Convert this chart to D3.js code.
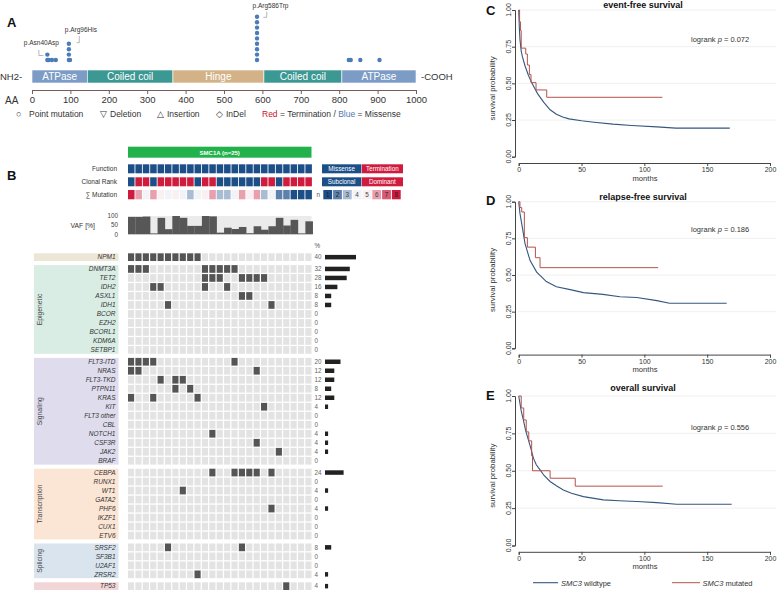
<!DOCTYPE html>
<html><head><meta charset="utf-8">
<script src="https://cdn.jsdelivr.net/npm/d3@7"></script>
<style>body{margin:0;background:#fff}svg{display:block}text{font-family:"Liberation Sans",Arial,sans-serif}</style>
</head><body><svg id="c" width="779" height="592"></svg>
<script>
// ---------------- DATA ----------------
// Panel A: protein domains / mutations
const domainNames = ["ATPase","Coiled coil","Hinge","Coiled coil","ATPase"];
const domainStart = [0,144,367,604,807];
const domainEnd   = [144,367,604,807,1000];
const aaTicks = [0,100,200,300,400,500,600,700,800,900,1000];
const mutPos   = [40,44,52,62,96,99,586,825,830,855,905];
const mutCount = [2,1,1,1,4,1,9,1,1,1,1];
const mutLabelText = ["p.Asn40Asp","p.Arg96His","p.Arg586Trp"];
const mutLabelAA   = [40,96,586];
// Panel B: SMC1A (n=25) columns
const nPatients = 25;
const functionRow = ["M","M","M","M","M","M","M","M","M","M","M","M","M","M","M","M","M","M","M","M","M","M","M","M","M"];
const clonalRow   = ["S","D","D","S","D","D","D","D","D","S","D","D","S","S","S","S","S","S","D","D","S","D","D","D","D"];
const sumMutRow   = [8,6,4,6,5,4,5,4,3,4,5,6,3,3,4,6,5,6,3,4,2,2,1,1,1];
const vafRow      = [95,95,97,5,90,28,100,90,46,46,100,98,9,36,29,40,6,44,25,44,90,48,79,5,71];
const vafTicks = [0,50,100];
// gene groups (mutated column numbers, 1-based)
const npmGenes = ["NPM1"];
const npmMuts  = [[1,2,3,4,5,6,7,8,9,10]];
const epiGenes = ["DNMT3A","TET2","IDH2","ASXL1","IDH1","BCOR","EZH2","BCORL1","KDM6A","SETBP1"];
const epiMuts  = [[1,2,3,11,12,13,14,15],[11,12,13,16,17,18,19],[4,5,11,14],[16,17],[6,20],[],[],[],[],[]];
const sigGenes = ["FLT3-ITD","NRAS","FLT3-TKD","PTPN11","KRAS","KIT","FLT3 other","CBL","NOTCH1","CSF3R","JAK2","BRAF"];
const sigMuts  = [[1,2,3,4,15],[1,2,18],[5,7,8],[7,9],[1,4,10],[19],[],[],[12],[18],[21],[]];
const traGenes = ["CEBPA","RUNX1","WT1","GATA2","PHF6","IKZF1","CUX1","ETV6"];
const traMuts  = [[12,15,16,17,18,20],[],[8],[],[20],[],[],[]];
const splGenes = ["SRSF2","SF3B1","U2AF1","ZRSR2"];
const splMuts  = [[6,16],[],[],[10]];
const tp5Genes = ["TP53"];
const tp5Muts  = [[22]];
const groupLabels = ["","Epigenetic","Signaling","Transcription","Splicing",""];
// Panels C-E: Kaplan-Meier curves
const kmTicksX = [0,50,100,150,200];
const kmTicksY = [0,0.25,0.5,0.75,1];
const efsWtT = [0,0.5,1,2,3,5,7.5,10,12.5,15,20,25,30,35,40,50,60,75,90,110,125,168];
const efsWtS = [1,0.88,0.80,0.72,0.68,0.62,0.56,0.51,0.47,0.43,0.37,0.32,0.29,0.27,0.258,0.245,0.235,0.222,0.213,0.203,0.195,0.195];
const efsMuT = [0,0.7,1.4,2,5.6,6.9,8.5,9.8,13.8,22.3,114.3];
const efsMuS = [1,0.92,0.86,0.74,0.70,0.625,0.56,0.505,0.455,0.405,0.405];
const rfsWtT = [0,1,2.4,5,9,14.3,22,30,41,51.5,67,80.6,94,110,120,165.5];
const rfsWtS = [1,0.92,0.85,0.716,0.60,0.52,0.455,0.42,0.40,0.38,0.368,0.352,0.347,0.325,0.307,0.307];
const rfsMuT = [0,1,2.4,4.5,6.9,13.3,17,111];
const rfsMuS = [1,0.96,0.93,0.755,0.69,0.618,0.55,0.55];
const osWtT = [0,2,3.7,5.5,7.7,10,11.7,14,17,20,25,30,35.5,42,51.5,60,67.4,80,94,110,125.7,169.5];
const osWtS = [1,0.90,0.84,0.77,0.706,0.64,0.584,0.54,0.506,0.47,0.428,0.40,0.372,0.35,0.327,0.315,0.305,0.299,0.294,0.287,0.276,0.276];
const osMuT = [0,2,4,6,8,10.3,11,25,45,114.6];
const osMuS = [1,0.92,0.84,0.76,0.70,0.60,0.50,0.45,0.397,0.397];

// ---------------- DRAW ----------------
const svg = d3.select("#c");
const FONT = '"Liberation Sans",Arial,sans-serif';
function txt(g,x,y,s,o={}){
  const t=g.append("text").attr("x",x).attr("y",y).text(s)
    .attr("font-size",o.size||7).attr("fill",o.fill||"#222")
    .attr("text-anchor",o.anchor||"start");
  if(o.bold) t.attr("font-weight","bold");
  if(o.italic) t.attr("font-style","italic");
  return t;
}

// ===== Panel A =====
const A = svg.append("g");
txt(A,7,27,"A",{size:13,bold:true,fill:"#111"});
const xA = d3.scaleLinear().domain([0,1000]).range([32,416]);
const domColor = {"ATPase":"#7c9cc6","Coiled coil":"#3b9892","Hinge":"#d4b287"};
const barY=70, barH=13;
domainNames.forEach((n,i)=>{
  A.append("rect").attr("x",xA(domainStart[i])).attr("y",barY)
    .attr("width",xA(domainEnd[i])-xA(domainStart[i])).attr("height",barH)
    .attr("fill",domColor[n]).attr("stroke","#fff").attr("stroke-width",0.6);
  txt(A,(xA(domainStart[i])+xA(domainEnd[i]))/2,barY+10,n,{size:10,anchor:"middle",fill:"#fff"});
});
txt(A,0,80,"NH2-",{size:9.5,fill:"#333"});
txt(A,421,80,"-COOH",{size:9.5,fill:"#333"});
const axA = A.append("g").attr("transform","translate(0,90)")
  .call(d3.axisBottom(xA).tickValues(aaTicks).tickFormat(d3.format("d")).tickSize(4).tickPadding(2));
axA.selectAll("path,line").attr("stroke","#7a5a5a");
axA.selectAll("text").attr("font-size",9.5).attr("fill","#333").attr("font-family",FONT);
txt(A,5,104,"AA",{size:10,fill:"#333"});
// lollipop dots
mutPos.forEach((p,i)=>{
  for(let k=0;k<mutCount[i];k++){
    A.append("circle").attr("cx",xA(p)).attr("cy",60-k*5.4).attr("r",2.2).attr("fill","#4b7bb8");
  }
});
// labels with leaders
const lbl=[{dx:-6,ty:45,lx:-8.5,ly0:50,ly1:55.5,hx:-4},
           {dx:12,ty:31.5,lx:10.4,ly0:36,ly1:42.7,hx:7.8},
           {dx:13.5,ty:7.5,lx:9.7,ly0:11.7,ly1:17.3,hx:6.3}];
mutLabelText.forEach((s,i)=>{
  const x=xA(mutLabelAA[i]), L=lbl[i];
  txt(A,x+L.dx,L.ty,s,{size:6.5,anchor:"middle",fill:"#333"});
  A.append("path").attr("d",`M${x+L.lx},${L.ly0}V${L.ly1}H${x+L.hx}`).attr("fill","none").attr("stroke","#999").attr("stroke-width",0.7);
});
// legend row
const lg = A.append("g");
txt(lg,16,117,"○",{size:9,fill:"#333"}); txt(lg,29,117,"Point mutation",{size:8.5,fill:"#333"});
txt(lg,100,117,"▽",{size:8.5,fill:"#333"}); txt(lg,110,117,"Deletion",{size:8.5,fill:"#333"});
txt(lg,157,117,"△",{size:8.5,fill:"#333"}); txt(lg,167,117,"Insertion",{size:8.5,fill:"#333"});
txt(lg,216,117,"◇",{size:8.5,fill:"#333"}); txt(lg,226,117,"InDel",{size:8.5,fill:"#333"});
const lt = lg.append("text").attr("x",262).attr("y",117).attr("font-size",8.5).attr("fill","#333");
lt.append("tspan").attr("fill","#c8102e").text("Red");
lt.append("tspan").text(" = Termination / ");
lt.append("tspan").attr("fill","#4b7bb8").text("Blue");
lt.append("tspan").text(" = Missense");

// ===== Panel B =====
const B = svg.append("g");
txt(B,7,180,"B",{size:13,bold:true,fill:"#111"});
const colX = d3.scaleBand().domain(d3.range(nPatients)).range([128,311.5]).paddingInner(0.17).paddingOuter(0);
const step = colX.step();
const BLUE="#1c4f88", RED="#cf1b3d";
B.append("rect").attr("x",128).attr("y",146.7).attr("width",183.5).attr("height",11).attr("fill","#22b24c");
txt(B,219.7,154.5,"SMC1A (n=25)",{size:6,bold:true,anchor:"middle",fill:"#fff"});
const rowsTop=[{y:164.3,lab:"Function",data:functionRow,col:d=>d==="M"?BLUE:RED},
               {y:177.3,lab:"Clonal Rank",data:clonalRow,col:d=>d==="S"?BLUE:RED}];
const sumColors = ["#1c4f88","#5d80ac","#a8bcd3","#f1f3f7","#faeff1","#e8a0ad","#d95a73","#cf1b3d"];
rowsTop.forEach(r=>{
  txt(B,117,r.y+6.8,r.lab,{size:6.5,anchor:"end",fill:"#333"});
  B.selectAll(null).data(r.data).enter().append("rect")
    .attr("x",(d,i)=>colX(i)).attr("y",r.y).attr("width",colX.bandwidth()+0.4).attr("height",9).attr("fill",r.col);
});
txt(B,117,197,"∑ Mutation",{size:6.5,anchor:"end",fill:"#333"});
B.selectAll(null).data(sumMutRow).enter().append("rect")
  .attr("x",(d,i)=>colX(i)).attr("y",190).attr("width",colX.bandwidth()+0.4).attr("height",9.3)
  .attr("fill",d=>sumColors[d-1]);
// right legends
[["Missense",BLUE,322,39.3,164.3],["Termination",RED,361.8,41.2,164.3],["Subclonal",BLUE,322,39.3,177.3],["Dominant",RED,361.8,41.2,177.3]]
.forEach(([s,c,x,w,y])=>{
  B.append("rect").attr("x",x).attr("y",y).attr("width",w).attr("height",9).attr("fill",c);
  txt(B,x+w/2,y+6.7,s,{size:6.3,anchor:"middle",fill:"#fff"});
});
txt(B,316.5,197,"n",{size:6.3,fill:"#555"});
sumColors.forEach((c,i)=>{
  const x=323.3+i*9.8;
  B.append("rect").attr("x",x).attr("y",190).attr("width",8.8).attr("height",9.3).attr("fill",c);
  txt(B,x+4.4,197,String(i+1),{size:6.3,anchor:"middle",fill:(i<2||i>5)?"#222":"#444"});
});
// VAF
const yV = d3.scaleLinear().domain([0,100]).range([234.3,216]);
B.append("rect").attr("x",128).attr("y",yV(100)).attr("width",183.5).attr("height",yV(0)-yV(100)).attr("fill","#ebebeb");
B.selectAll(null).data(vafRow).enter().append("rect")
  .attr("x",(d,i)=>128+i*step).attr("y",d=>yV(d)).attr("width",step+0.2).attr("height",d=>yV(0)-yV(d)).attr("fill","#575757");
vafTicks.forEach(v=>txt(B,118,yV(v)+2.3,String(v),{size:6.3,anchor:"end",fill:"#444"}));
txt(B,95,228,"VAF [%]",{size:6.8,anchor:"end",fill:"#333"});
// gene matrix
txt(B,314.5,248,"%",{size:6.3,fill:"#555"});
const groups=[[npmGenes,npmMuts,"#ece6d6"],[epiGenes,epiMuts,"#d9ede4"],[sigGenes,sigMuts,"#dedced"],
              [traGenes,traMuts,"#fbe5d4"],[splGenes,splMuts,"#d9e4ef"],[tp5Genes,tp5Muts,"#f2d6d7"]];
const rowStep=9, gapG=2.8, cellH=7.7;
let yCur=253.3;
const pctX = d3.scaleLinear().domain([0,40]).range([0,31]);
groups.forEach(([genes,muts,bg],gi)=>{
  const gTop=yCur, gH=genes.length*rowStep-1.3;
  B.append("rect").attr("x",34).attr("y",gTop).attr("width",84.5).attr("height",gH).attr("fill",bg);
  if(groupLabels[gi]) txt(B,0,0,groupLabels[gi],{size:6.8,anchor:"middle",fill:"#444"})
      .attr("transform",`translate(41.5,${gTop+gH/2}) rotate(-90)`);
  genes.forEach((gname,ri)=>{
    const y=gTop+ri*rowStep;
    txt(B,115.5,y+6,gname,{size:6.5,anchor:"end",italic:true,fill:"#333"});
    B.selectAll(null).data(d3.range(nPatients)).enter().append("rect")
      .attr("x",i=>colX(i)).attr("y",y).attr("width",colX.bandwidth()).attr("height",cellH)
      .attr("fill",i=>muts[ri].includes(i+1)?"#555555":"#e3e3e3");
    const pct=Math.round(muts[ri].length/nPatients*100);
    txt(B,314.5,y+6,String(pct),{size:6.3,fill:"#666"});
    if(pct>0) B.append("rect").attr("x",325).attr("y",y+1.6).attr("width",pctX(pct)).attr("height",4.5).attr("fill","#222");
  });
  yCur = gTop + genes.length*rowStep + gapG;
});

// ===== KM panels =====
const WT="#34577f", MU="#b5524b";
function km(o){
  const g=svg.append("g");
  const x=d3.scaleLinear().domain([0,200]).range([518.7,770]);
  const y=d3.scaleLinear().domain([0,1]).range([o.bottom,o.top]);
  txt(g,486,o.letterY,o.letter,{size:13,bold:true,fill:"#111"});
  txt(g,643,o.titleY,o.title,{size:9,bold:true,anchor:"middle",fill:"#111"});
  kmTicksY.filter(v=>v>0).forEach(v=>g.append("line").attr("x1",518).attr("x2",776).attr("y1",y(v)).attr("y2",y(v)).attr("stroke","#ececec").attr("stroke-width",0.8));
  const ay=g.append("g").attr("transform","translate(515,0)").call(d3.axisLeft(y).tickValues(kmTicksY).tickSize(3).tickFormat(""));
  ay.selectAll("path,line").attr("stroke","#444");
  kmTicksY.forEach(v=>txt(g,0,0,d3.format(".2f")(v),{size:7,anchor:"middle",fill:"#333"}).attr("transform",`translate(511,${y(v)}) rotate(-90)`));
  const axY=o.bottom+6.3;
  const ax=g.append("g").attr("transform",`translate(0,${axY})`).call(d3.axisBottom(x).tickValues(kmTicksX).tickSize(3).tickPadding(1.2));
  ax.selectAll("path,line").attr("stroke","#444");
  ax.selectAll("text").attr("font-size",7).attr("fill","#333").attr("font-family",FONT);
  txt(g,645,axY+17.5,"months",{size:7.6,anchor:"middle",fill:"#333"});
  txt(g,0,0,"survival probability",{size:7.8,anchor:"middle",fill:"#333"}).attr("transform",`translate(494.5,${(o.top+o.bottom)/2+5}) rotate(-90)`);
  const lp=g.append("text").attr("x",691).attr("y",o.pY).attr("font-size",7.5).attr("fill","#333");
  lp.append("tspan").text("logrank ");
  lp.append("tspan").attr("font-style","italic").text("p");
  lp.append("tspan").text(" = "+o.p);
  const line=d3.line().x(d=>x(d[0])).y(d=>y(d[1]));
  g.append("path").attr("d",line.curve(d3.curveLinear)(d3.zip(o.wtT,o.wtS))).attr("fill","none").attr("stroke",WT).attr("stroke-width",1.1);
  g.append("path").attr("d",d3.line().x(d=>x(d[0])).y(d=>y(d[1])).curve(d3.curveStepAfter)(d3.zip(o.muT,o.muS))).attr("fill","none").attr("stroke",MU).attr("stroke-width",1);
  return g;
}
km({letter:"C",letterY:15,title:"event-free survival",titleY:8,top:10,bottom:156.7,p:"0.072",pY:41.5,wtT:efsWtT,wtS:efsWtS,muT:efsMuT,muS:efsMuS});
km({letter:"D",letterY:205,title:"relapse-free survival",titleY:199.5,top:201.7,bottom:348.3,p:"0.186",pY:231.5,wtT:rfsWtT,wtS:rfsWtS,muT:rfsMuT,muS:rfsMuS});
const gE=km({letter:"E",letterY:400,title:"overall survival",titleY:390.5,top:396,bottom:545.5,p:"0.556",pY:430.3,wtT:osWtT,wtS:osWtS,muT:osMuT,muS:osMuS});
// legend
gE.append("line").attr("x1",533).attr("x2",558).attr("y1",582.7).attr("y2",582.7).attr("stroke",WT).attr("stroke-width",1.1);
const l1=gE.append("text").attr("x",561).attr("y",585.5).attr("font-size",7.5).attr("fill","#333");
l1.append("tspan").attr("font-style","italic").text("SMC3"); l1.append("tspan").text(" wildtype");
gE.append("line").attr("x1",672).attr("x2",700).attr("y1",582.7).attr("y2",582.7).attr("stroke",MU).attr("stroke-width",1);
const l2=gE.append("text").attr("x",702.5).attr("y",585.5).attr("font-size",7.5).attr("fill","#333");
l2.append("tspan").attr("font-style","italic").text("SMC3"); l2.append("tspan").text(" mutated");
</script></body></html>
